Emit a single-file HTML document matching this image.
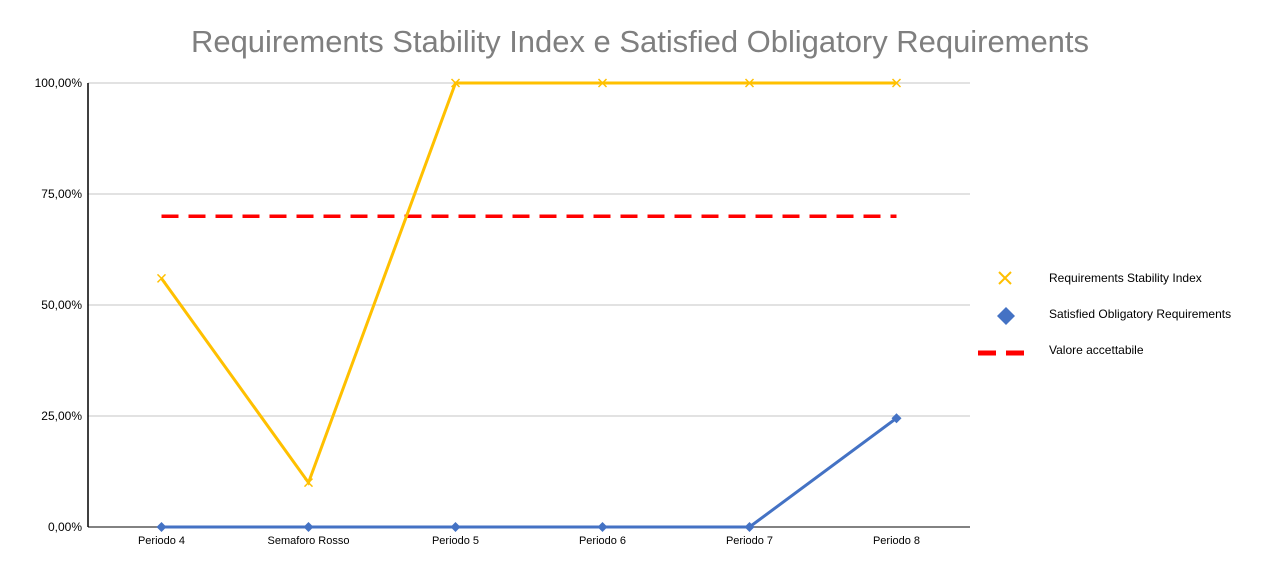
<!DOCTYPE html>
<html><head><meta charset="utf-8"><style>
body{margin:0;background:#fff;font-family:"Liberation Sans",sans-serif}
svg text{font-family:"Liberation Sans",sans-serif}
</style></head><body>
<svg id="c" width="1280" height="576">
<text x="640" y="52" text-anchor="middle" font-size="31" fill="#7f7f7f" textLength="898">Requirements Stability Index e Satisfied Obligatory Requirements</text>
<g id="grid"></g><g id="marks"></g>
<g>
<g><path d="M999,272 l12,12 M1011,272 l-12,12" stroke="#ffc000" stroke-width="2"/><text x="1049" y="282" font-size="12">Requirements Stability Index</text></g>
<g><path d="M1006,307 l9,9 l-9,9 l-9,-9z" fill="#4472c4"/><text x="1049" y="318" font-size="12">Satisfied Obligatory Requirements</text></g>
<g><path d="M978,353 h56" stroke="#ff0000" stroke-width="5" stroke-dasharray="18,10"/><text x="1049" y="354" font-size="12">Valore accettabile</text></g>
</g>
</svg>
<script>
const categories=["Periodo 4","Semaforo Rosso","Periodo 5","Periodo 6","Periodo 7","Periodo 8"];
const rsiValues=[56,10,100,100,100,100];
const sorValues=[0,0,0,0,0,24.5];
const thresholdValue=70;
const yTicks=[0,25,50,75,100];
const yTickLabels=["0,00%","25,00%","50,00%","75,00%","100,00%"];
const L=88,R=970,T=83,B=527;
const ns="http://www.w3.org/2000/svg";
const x=i=>L+(R-L)/categories.length*(i+0.5);
const y=v=>B-(B-T)*v/100;
function mk(t,a,p){const e=document.createElementNS(ns,t);for(const k in a)e.setAttribute(k,a[k]);p.appendChild(e);return e;}
const g=document.getElementById('grid'),m=document.getElementById('marks');
yTicks.forEach((v,i)=>{
 const l=mk('line',{x1:L,x2:R,y1:y(v),y2:y(v),stroke:v===0?'#595959':'#d0d0d0','stroke-width':v===0?1.5:1.3},g);
 
 
 const t=mk('text',{x:L-6,y:y(v)+4,'text-anchor':'end','font-size':12},g);t.textContent=yTickLabels[i];
 
 
});
const ax=mk('line',{x1:L,x2:L,y1:T,y2:B,stroke:'#000','stroke-width':1.5},g);


categories.forEach((c,i)=>{const t=mk('text',{x:x(i),y:B+17,'text-anchor':'middle','font-size':11},g);t.textContent=c;
 
 });
const th=mk('line',{x1:x(0),x2:x(categories.length-1),y1:y(thresholdValue),y2:y(thresholdValue),stroke:'#ff0000','stroke-width':3.5,'stroke-dasharray':'17,10'},m);


const p1=mk('polyline',{points:rsiValues.map((v,i)=>x(i)+','+y(v)).join(' '),fill:'none',stroke:'#ffc000','stroke-width':3},m);


const p2=mk('polyline',{points:sorValues.map((v,i)=>x(i)+','+y(v)).join(' '),fill:'none',stroke:'#4472c4','stroke-width':3},m);


rsiValues.forEach((v,i)=>{const cx=x(i),cy=y(v);const e=mk('path',{d:`M${cx-4},${cy-4}l8,8M${cx+4},${cy-4}l-8,8`,stroke:'#ffc000','stroke-width':1.5},m);
 
 });
sorValues.forEach((v,i)=>{const cx=x(i),cy=y(v);const e=mk('path',{d:`M${cx},${cy-5}l5,5l-5,5l-5,-5z`,fill:'#4472c4'},m);
 
 });
</script>
</body></html>
